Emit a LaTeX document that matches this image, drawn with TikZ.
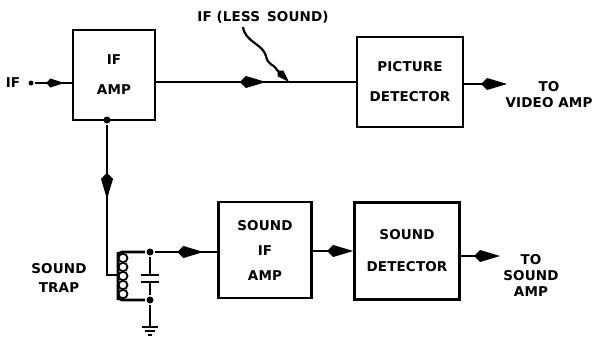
\documentclass[tikz,border=0pt]{standalone}
\usepackage{fontspec}
\newfontfamily\lettering[LetterSpace=1]{DejaVu Sans}
\usetikzlibrary{arrows.meta,decorations.pathmorphing,decorations.markings,positioning}

\begin{document}
\begin{tikzpicture}[x=1pt, y=-1pt, line width=2.6pt,
        every node/.style={font=\lettering\bfseries\fontsize{13.5}{16}\selectfont, align=center},
        block/.style={rectangle, draw, line width=2.6pt, inner sep=0pt},
        spike/.style={-{Kite[length=26pt, width=12pt, inset=6pt]}},
        midspike/.style={postaction={decorate}, decoration={markings,
            mark=at position #1 with {\arrow{Kite[length=26pt, width=12pt, inset=6pt]}}}},
        junction/.style={circle, fill, inner sep=0pt, minimum size=7pt}]
    \useasboundingbox (0,0) rectangle (594,340);

    % blocks
    \node (ifamp) at (114,75) [block, minimum width=82pt, minimum height=90pt] {IF\\[14pt]AMP};
    \node (picdet) at (410,82) [block, minimum width=106pt, minimum height=90pt] {PICTURE\\[14pt]DETECTOR};
    \node (sndif) at (265,250) [block, minimum width=93pt, minimum height=96pt] {SOUND\\[9pt]IF\\[9pt]AMP};
    \node (snddet) at (407,251) [block, minimum width=105pt, minimum height=97pt] {SOUND\\[16pt]DETECTOR};

    % labels
    \node (ifin) at (13,83) {IF};
    \node (less) at (263,17) {IF (LESS\, SOUND)};
    \node (tovideo) at (549,95) {TO\\VIDEO AMP};
    \node (trap) at (59,278) {SOUND\\[3pt]TRAP};
    \node (tosound) at (531,275) {TO\\SOUND\\AMP};

    % picture channel
    \node (src) at (31,83) [junction, minimum size=5pt] {};
    \draw [postaction={decorate}, decoration={markings,
        mark=at position 0.8 with {\arrow{Kite[length=18pt, width=9pt, inset=4pt]}}}]
        (src) -- (src -| ifamp.west);
    \draw [midspike=0.55] (ifamp.east |- picdet.west) -- (picdet.west);
    \coordinate (vidend) at (507,84);
    \draw [spike] (picdet.east |- vidend) -- (vidend);

    \coordinate (lead) at (243,27);
    \coordinate (tap) at (289,82);
    \draw [line width=2.2pt, -{Kite[length=16pt, width=8pt, inset=4pt]}] (lead)
        .. controls (245,42) and (263,44) .. (266,56)
        .. controls (268,66) and (273,63) .. (277,70) -- (tap);

    % sound take-off and trap
    \node (ampout) at (107,120) [junction] {};
    \coordinate (coiltap) at (118,275);
    \draw [midspike=0.46] (ampout) |- (coiltap);

    \coordinate (coiltop) at (118,256);
    \coordinate (coilbot) at (118,296);
    \node (captop) at (150,252) [junction] {};
    \node (capbot) at (150,300) [junction] {};
    \draw [rounded corners=4pt] (captop) -| (coiltop) -- (coilbot) |- (capbot);
    \foreach \k in {0,...,4}
        \draw [line width=1.8pt] (123,{258+9*\k}) ellipse [x radius=4.5pt, y radius=4.2pt];

    \coordinate (plA) at (150,275);
    \coordinate (plB) at (150,282);
    \draw (captop) -- (plA) ([xshift=-9pt]plA) -- ([xshift=9pt]plA);
    \draw ([xshift=-9pt]plB) -- ([xshift=9pt]plB) (plB) -- (capbot);

    \coordinate (gnd) at (150,327);
    \draw (capbot) -- (gnd);
    \draw ([xshift=-8pt]gnd) -- ([xshift=8pt]gnd)
          ([xshift=-5pt, yshift=-4pt]gnd) -- ([xshift=5pt, yshift=-4pt]gnd)
          ([xshift=-2pt, yshift=-8pt]gnd) -- ([xshift=2pt, yshift=-8pt]gnd);

    % sound channel
    \draw [midspike=0.78] (captop) -- (captop -| sndif.west);
    \draw [spike] (sndif.east |- snddet.west) -- (snddet.west);
    \coordinate (sndend) at (500,256);
    \draw [spike] (snddet.east |- sndend) -- (sndend);
\end{tikzpicture}
\end{document}
